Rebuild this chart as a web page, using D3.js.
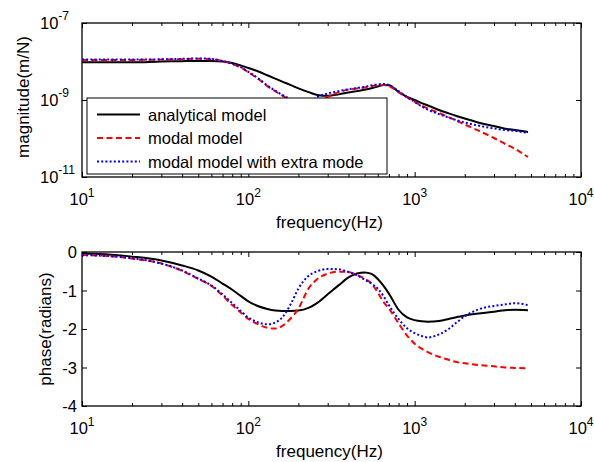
<!DOCTYPE html>
<html>
<head>
<meta charset="utf-8">
<script src="https://cdn.jsdelivr.net/npm/d3@7"></script>
<style>
  html, body { margin: 0; padding: 0; background: #fff; }
  svg { display: block; font-family: "Liberation Sans", Arial, sans-serif; }
</style>
</head>
<body>
<svg id="chart" width="594" height="462"></svg>
<script>
// ---------------- data ----------------
const freq = [10,15,20,30,40,50,60,70,80,90,
  100,115,130,145,160,180,200,230,260,300,
  350,400,450,500,550,600,650,700,800,900,
  1000,1100,1200,1400,1600,1800,2000,2500,3000,3500,
  4000,4800];

const magAnalytical = [9.5e-9,9.5e-9,9.5e-9,1.0e-8,1.02e-8,1.03e-8,1.03e-8,1.0e-8,9.1e-9,7.9e-9,
  6.8e-9,5.5e-9,4.4e-9,3.6e-9,3.0e-9,2.44e-9,2.0e-9,1.6e-9,1.35e-9,1.28e-9,
  1.4e-9,1.56e-9,1.7e-9,1.85e-9,2.03e-9,2.24e-9,2.45e-9,2.42e-9,1.62e-9,1.2e-9,
  1.0e-9,8.3e-10,7.2e-10,5.5e-10,4.5e-10,3.8e-10,3.3e-10,2.5e-10,2.1e-10,1.8e-10,
  1.66e-10,1.48e-10];

const magModal = [1.1e-8,1.1e-8,1.1e-8,1.12e-8,1.15e-8,1.18e-8,1.15e-8,1.02e-8,8.6e-9,7.0e-9,
  5.3e-9,3.5e-9,2.3e-9,1.7e-9,1.3e-9,1.0e-9,8.5e-10,7.5e-10,8.5e-10,1.2e-9,
  1.6e-9,1.87e-9,2.0e-9,2.1e-9,2.3e-9,2.4e-9,2.45e-9,2.3e-9,1.6e-9,1.16e-9,
  8.9e-10,7.2e-10,6.0e-10,4.6e-10,3.6e-10,2.85e-10,2.3e-10,1.5e-10,1.03e-10,7.2e-11,
  5.4e-11,3.3e-11];

const magExtraMode = [1.12e-8,1.12e-8,1.12e-8,1.14e-8,1.17e-8,1.2e-8,1.17e-8,1.03e-8,8.7e-9,7.1e-9,
  5.4e-9,3.6e-9,2.4e-9,1.75e-9,1.35e-9,1.05e-9,9.0e-10,8.8e-10,1.2e-9,1.48e-9,
  1.7e-9,1.9e-9,2.05e-9,2.2e-9,2.4e-9,2.55e-9,2.6e-9,2.45e-9,1.7e-9,1.2e-9,
  8.9e-10,6.8e-10,5.6e-10,4.3e-10,3.5e-10,2.95e-10,2.6e-10,2.1e-10,1.82e-10,1.66e-10,
  1.57e-10,1.39e-10];

const phaseAnalytical = [-0.04,-0.07,-0.12,-0.22,-0.35,-0.48,-0.64,-0.82,-0.98,-1.14,
  -1.28,-1.41,-1.48,-1.52,-1.53,-1.53,-1.52,-1.45,-1.32,-1.1,
  -0.86,-0.66,-0.56,-0.53,-0.57,-0.7,-0.88,-1.08,-1.5,-1.7,
  -1.77,-1.8,-1.81,-1.79,-1.74,-1.69,-1.65,-1.59,-1.55,-1.51,
  -1.5,-1.51];

const phaseModal = [-0.08,-0.11,-0.17,-0.3,-0.49,-0.7,-0.88,-1.13,-1.38,-1.57,
  -1.74,-1.88,-1.97,-1.99,-1.92,-1.72,-1.47,-0.95,-0.7,-0.56,
  -0.51,-0.52,-0.6,-0.69,-0.82,-1.05,-1.3,-1.47,-1.85,-2.17,
  -2.38,-2.51,-2.6,-2.72,-2.8,-2.86,-2.89,-2.94,-2.97,-3.0,
  -3.01,-3.02];

const phaseExtraMode = [-0.08,-0.11,-0.16,-0.3,-0.48,-0.69,-0.87,-1.1,-1.33,-1.53,
  -1.7,-1.83,-1.88,-1.83,-1.7,-1.35,-0.95,-0.62,-0.5,-0.44,
  -0.45,-0.52,-0.6,-0.72,-0.82,-0.95,-1.15,-1.38,-1.74,-1.98,
  -2.11,-2.18,-2.22,-2.14,-2.0,-1.82,-1.67,-1.47,-1.4,-1.36,
  -1.33,-1.38];

const seriesNames = ["analytical model", "modal model", "modal model with extra mode"];
const xTickExps = [1, 2, 3, 4];
const magTickExps = [-7, -9, -11];
const phaseTicks = [0, -1, -2, -3, -4];
const magLabel = "magnitude(m/N)";
const phaseLabel = "phase(radians)";
const xLabel = "frequency(Hz)";

// ---------------- layout ----------------
const L = 82, R = 581;
const top1 = 23, bot1 = 177;
const top2 = 252, bot2 = 406;
const styles = [
  { color: "#000000", dash: null },
  { color: "#ff0000", dash: "6,3.5" },
  { color: "#0000ff", dash: "2,2.2" }
];

const svg = d3.select("#chart");
const x = d3.scaleLog().domain([10, 10000]).range([L, R]);
const yMag = d3.scaleLog().domain([1e-11, 1e-7]).range([bot1, top1]);
const yPh = d3.scaleLinear().domain([-4, 0]).range([bot2, top2]);

const minorTicks = [];
[10, 100, 1000].forEach(d => { for (let k = 2; k <= 9; k++) minorTicks.push(d * k); });

function frame(top, bot, yScale, yTickVals) {
  const g = svg.append("g");
  // minor x ticks (bottom and top)
  g.append("g").attr("transform", `translate(0,${bot})`)
    .call(d3.axisBottom(x).tickValues(minorTicks).tickSize(-3).tickSizeOuter(0).tickFormat(""));
  g.append("g").attr("transform", `translate(0,${top})`)
    .call(d3.axisTop(x).tickValues(minorTicks).tickSize(-3).tickSizeOuter(0).tickFormat(""));
  // major x ticks
  g.append("g").attr("transform", `translate(0,${bot})`)
    .call(d3.axisBottom(x).tickValues(xTickExps.map(e => Math.pow(10, e))).tickSize(-5).tickSizeOuter(0).tickFormat(""));
  g.append("g").attr("transform", `translate(0,${top})`)
    .call(d3.axisTop(x).tickValues(xTickExps.map(e => Math.pow(10, e))).tickSize(-5).tickSizeOuter(0).tickFormat(""));
  // y ticks left/right
  g.append("g").attr("transform", `translate(${L},0)`)
    .call(d3.axisLeft(yScale).tickValues(yTickVals).tickSize(-5).tickSizeOuter(0).tickFormat(""));
  g.append("g").attr("transform", `translate(${R},0)`)
    .call(d3.axisRight(yScale).tickValues(yTickVals).tickSize(-5).tickSizeOuter(0).tickFormat(""));
  g.selectAll(".domain").remove();
  g.selectAll(".tick line").attr("stroke", "#000").attr("stroke-width", 1);
  // box
  g.append("rect").attr("x", L).attr("y", top).attr("width", R - L).attr("height", bot - top)
    .attr("fill", "none").attr("stroke", "#000").attr("stroke-width", 1.3);
  // x tick labels
  const xl = g.append("g");
  xTickExps.forEach(e => {
    const t = xl.append("text").attr("x", x(Math.pow(10, e))).attr("y", bot + 28)
      .attr("text-anchor", "middle").attr("font-size", 16.5).attr("fill", "#000");
    t.append("tspan").text("10");
    t.append("tspan").attr("dy", -8).attr("font-size", 12).text(e);
  });
  // x axis title
  g.append("text").attr("x", (L + R) / 2 - 2).attr("y", bot + 51).attr("text-anchor", "middle")
    .attr("font-size", 17).attr("fill", "#000").text(xLabel);
  return g;
}

// ---- top: magnitude ----
const g1 = frame(top1, bot1, yMag, magTickExps.map(e => Math.pow(10, e)));
magTickExps.forEach(e => {
  const t = g1.append("text").attr("x", 40).attr("y", yMag(Math.pow(10, e)) + 6)
    .attr("font-size", 16.5).attr("fill", "#000");
  t.append("tspan").text("10");
  t.append("tspan").attr("dy", -9).attr("font-size", 12).text("-" + Math.abs(e));
});
g1.append("text").attr("transform", `translate(29,${(top1 + bot1) / 2 - 3}) rotate(-90)`)
  .attr("text-anchor", "middle").attr("font-size", 17).attr("fill", "#000").text(magLabel);

const lineMag = d3.line().x(d => x(d[0])).y(d => yMag(d[1])).curve(d3.curveMonotoneX);
[magAnalytical, magModal, magExtraMode].forEach((vals, i) => {
  svg.append("path").datum(freq.map((f, j) => [f, vals[j]]))
    .attr("d", lineMag).attr("fill", "none")
    .attr("stroke", styles[i].color).attr("stroke-width", 2)
    .attr("stroke-dasharray", styles[i].dash);
});

// legend
const lg = svg.append("g");
const lgX = 87, lgY = 98, lgW = 300, lgH = 76;
lg.append("rect").attr("x", lgX).attr("y", lgY).attr("width", lgW).attr("height", lgH)
  .attr("fill", "#fff").attr("stroke", "#000").attr("stroke-width", 1);
seriesNames.forEach((name, i) => {
  const cy = lgY + 16.5 + i * 23.5;
  lg.append("line").attr("x1", lgX + 10).attr("x2", lgX + 53).attr("y1", cy).attr("y2", cy)
    .attr("stroke", styles[i].color).attr("stroke-width", 2).attr("stroke-dasharray", styles[i].dash);
  lg.append("text").attr("x", lgX + 61).attr("y", cy + 6).attr("font-size", 16.5)
    .attr("fill", "#000").text(name);
});

// ---- bottom: phase ----
const g2 = frame(top2, bot2, yPh, phaseTicks);
phaseTicks.forEach(v => {
  g2.append("text").attr("x", 77).attr("y", yPh(v) + 6).attr("text-anchor", "end")
    .attr("font-size", 16.5).attr("fill", "#000").text(v === 0 ? "0" : "-" + Math.abs(v));
});
g2.append("text").attr("transform", `translate(51,${(top2 + bot2) / 2}) rotate(-90)`)
  .attr("text-anchor", "middle").attr("font-size", 17).attr("fill", "#000").text(phaseLabel);

const linePh = d3.line().x(d => x(d[0])).y(d => yPh(d[1])).curve(d3.curveMonotoneX);
[phaseAnalytical, phaseModal, phaseExtraMode].forEach((vals, i) => {
  svg.append("path").datum(freq.map((f, j) => [f, vals[j]]))
    .attr("d", linePh).attr("fill", "none")
    .attr("stroke", styles[i].color).attr("stroke-width", 2)
    .attr("stroke-dasharray", styles[i].dash);
});
</script>
</body>
</html>
